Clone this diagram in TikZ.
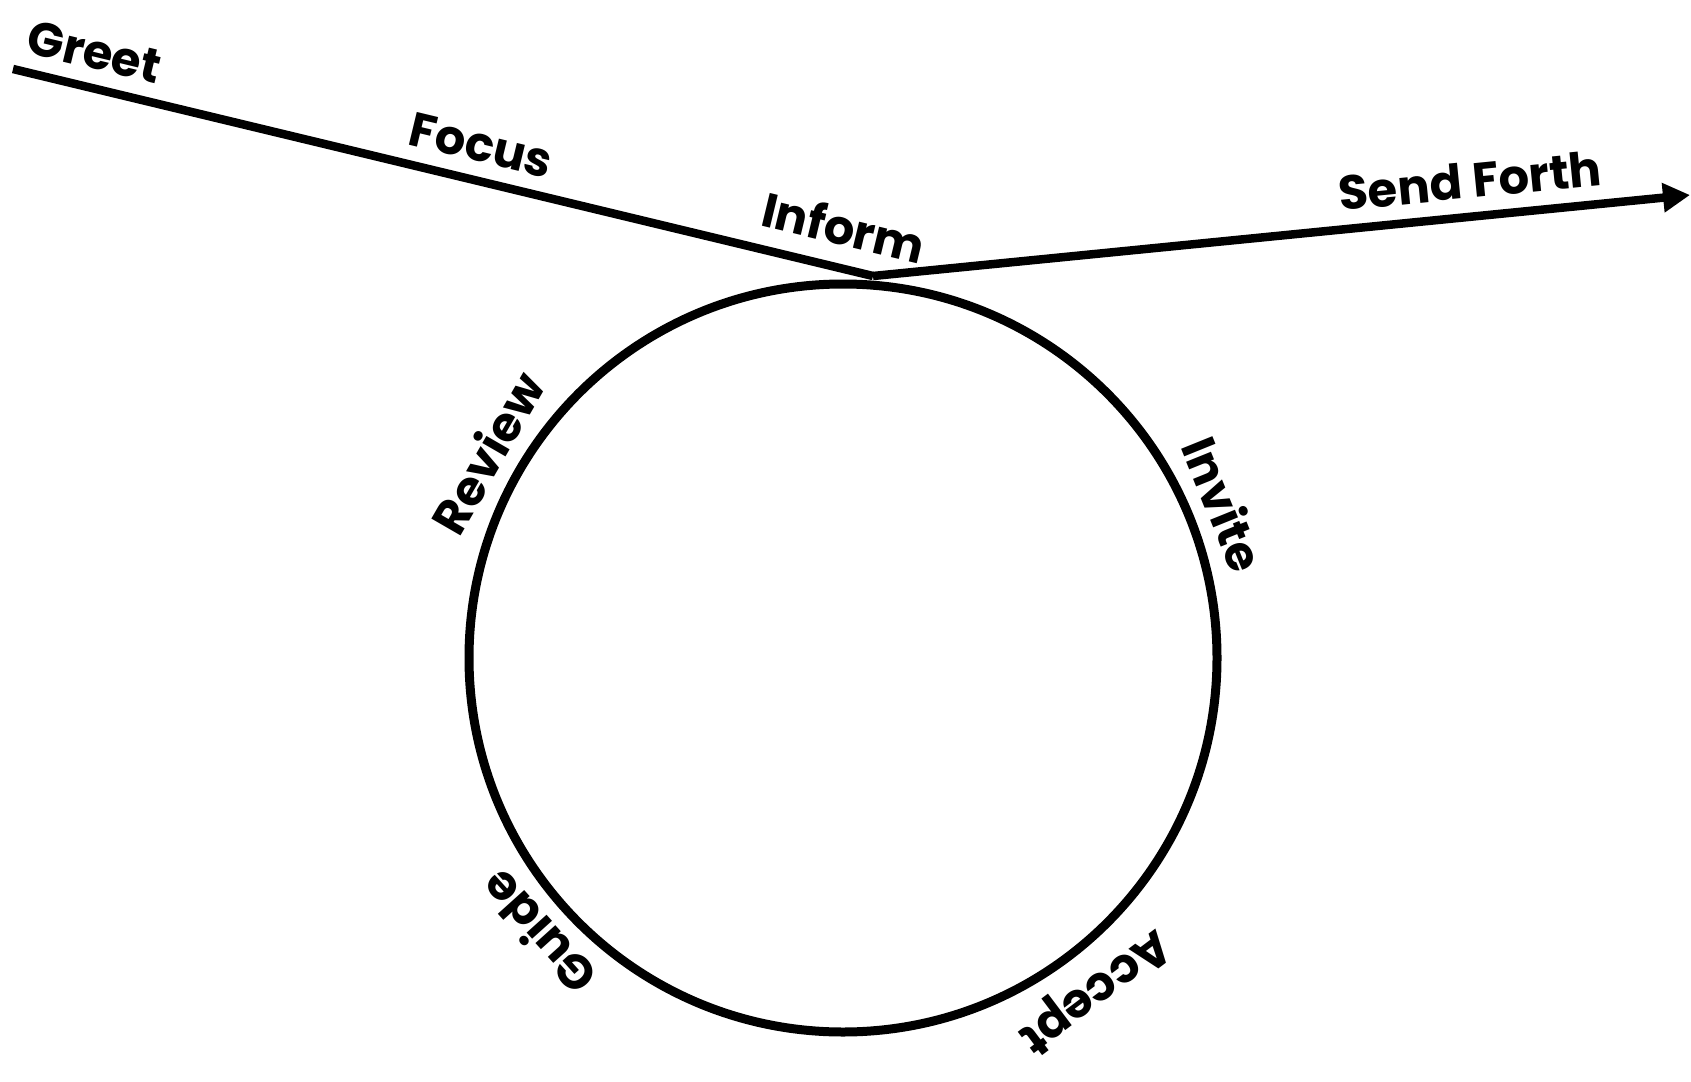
\documentclass[tikz,border=0pt]{standalone}
\usepackage{fontspec}
\setmainfont{Poppins}
\usetikzlibrary{arrows.meta}
\tikzset{
  stage/.style={font=\fontsize{48}{54}\selectfont\bfseries, inner sep=14pt},
  ring stage/.style={stage, anchor=south, inner sep=13pt},
  track/.style={line width=8.5pt},
}
\begin{document}
\begin{tikzpicture}[x=1pt,y=-1pt]
    \useasboundingbox (0,0) rectangle (1691,1081);
    % the loop
    \node[circle,draw,line width=9pt,minimum size=748pt,inner sep=0pt] (loop) at (843,658) {};
    \coordinate (start) at (13,69);
    \coordinate (touch) at (873,276);
    \coordinate (out)   at (1690,195);
    % path in and out
    \draw[track] (start)
      -- node[stage,pos=0.085,sloped,above]{Greet}
         node[stage,pos=0.535,sloped,above]{Focus}
         node[stage,pos=0.955,sloped,above,yshift=4pt]{Inform} (touch);
    \draw[track,-{Triangle[length=27pt,width=28pt]}] (touch)
      -- node[stage,pos=0.735,sloped,above]{Send Forth} (out);
    % stages round the loop
    \node[ring stage,rotate=60]  at (loop.150) {Review};
    \node[ring stage,rotate=-68] at (loop.22)  {Invite};
    \node[ring stage,rotate=132] at (loop.222) {Guide};
    \node[ring stage,rotate=217] at (loop.307) {Accept};
  \end{tikzpicture}
\end{document}
